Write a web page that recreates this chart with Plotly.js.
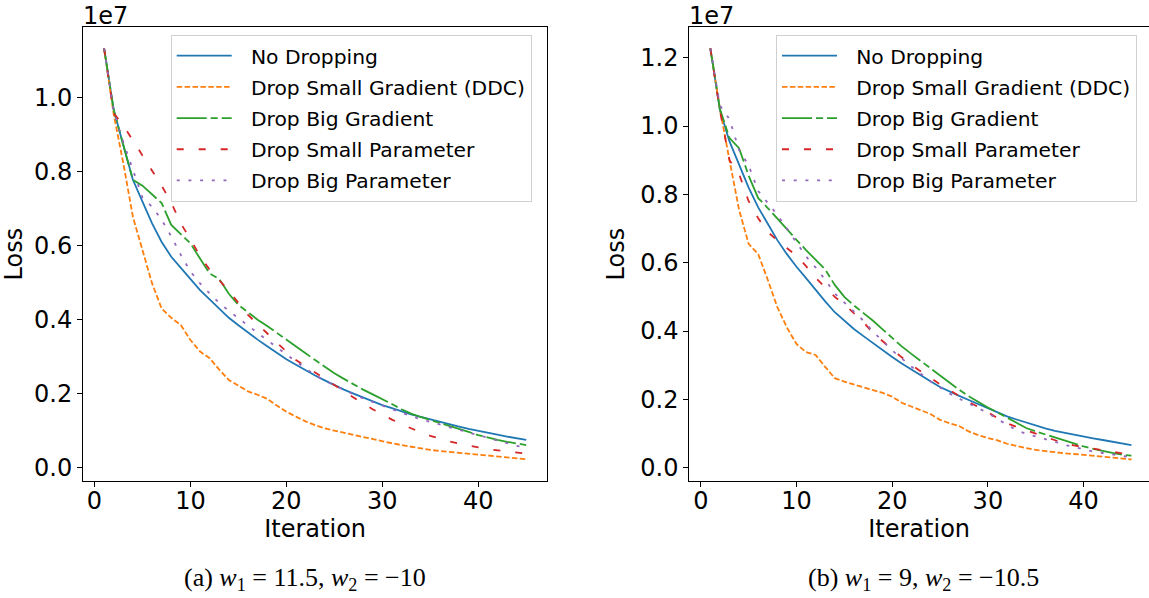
<!DOCTYPE html>
<html>
<head>
<meta charset="utf-8">
<script src="https://cdn.plot.ly/plotly-3.0.1.min.js"></script>
<style>html,body{margin:0;padding:0;background:#fff;}#chart{width:1149px;height:598px;}</style>
</head>
<body>
<div id="chart"></div>
<script>
// Iterations 1..45 ; losses in units of 1e7
const iterations = [1,2,3,4,5,6,7,8,9,10,11,12,13,14,15,16,17,18,19,20,21,22,23,24,25,26,27,28,29,30,31,32,33,34,35,36,37,38,39,40,41,42,43,44,45];

const seriesNames = ["No Dropping", "Drop Small Gradient (DDC)", "Drop Big Gradient", "Drop Small Parameter", "Drop Big Parameter"];

// (a) w1 = 11.5, w2 = -10
const a_noDrop = [1.133,0.967,0.872,0.778,0.719,0.660,0.610,0.570,0.540,0.510,0.480,0.455,0.430,0.405,0.385,0.365,0.346,0.328,0.310,0.293,0.278,0.263,0.249,0.236,0.223,0.211,0.200,0.189,0.179,0.169,0.161,0.152,0.144,0.137,0.130,0.123,0.117,0.111,0.105,0.099,0.094,0.089,0.084,0.080,0.075];
const a_dropSmallGrad = [1.133,0.955,0.823,0.678,0.588,0.498,0.430,0.405,0.385,0.345,0.314,0.296,0.265,0.237,0.222,0.206,0.197,0.186,0.168,0.151,0.138,0.125,0.115,0.106,0.100,0.094,0.088,0.082,0.076,0.071,0.066,0.061,0.056,0.052,0.048,0.045,0.042,0.040,0.037,0.035,0.033,0.031,0.028,0.026,0.023];
const a_dropBigGrad = [1.133,0.967,0.872,0.778,0.762,0.738,0.715,0.656,0.630,0.606,0.565,0.525,0.510,0.470,0.440,0.420,0.400,0.383,0.364,0.345,0.327,0.309,0.291,0.273,0.255,0.240,0.225,0.211,0.198,0.186,0.172,0.158,0.146,0.137,0.129,0.122,0.115,0.106,0.097,0.088,0.081,0.075,0.070,0.065,0.061];
const a_dropSmallParam = [1.133,0.958,0.925,0.885,0.845,0.803,0.762,0.716,0.660,0.617,0.572,0.535,0.507,0.478,0.445,0.413,0.388,0.362,0.338,0.314,0.291,0.274,0.257,0.241,0.224,0.207,0.190,0.173,0.158,0.143,0.130,0.118,0.106,0.095,0.086,0.078,0.071,0.065,0.059,0.055,0.050,0.047,0.044,0.041,0.038];
const a_dropBigParam = [1.133,0.962,0.880,0.805,0.730,0.705,0.670,0.625,0.575,0.530,0.498,0.471,0.445,0.424,0.403,0.384,0.364,0.344,0.325,0.306,0.287,0.268,0.250,0.235,0.222,0.210,0.198,0.187,0.177,0.167,0.157,0.147,0.139,0.131,0.124,0.116,0.109,0.101,0.095,0.089,0.081,0.074,0.066,0.059,0.055];

// (b) w1 = 9, w2 = -10.5
const b_noDrop = [1.227,1.047,0.955,0.885,0.820,0.762,0.712,0.666,0.625,0.588,0.555,0.520,0.487,0.455,0.430,0.406,0.385,0.364,0.344,0.324,0.305,0.287,0.270,0.253,0.236,0.222,0.210,0.198,0.186,0.174,0.162,0.150,0.141,0.132,0.123,0.115,0.108,0.102,0.096,0.091,0.086,0.081,0.076,0.071,0.066];
const b_dropSmallGrad = [1.227,1.050,0.900,0.755,0.655,0.625,0.550,0.470,0.410,0.362,0.338,0.330,0.295,0.262,0.252,0.243,0.235,0.227,0.219,0.208,0.190,0.180,0.168,0.157,0.140,0.130,0.122,0.106,0.095,0.087,0.080,0.070,0.063,0.057,0.052,0.048,0.045,0.042,0.040,0.037,0.034,0.032,0.029,0.027,0.024];
const b_dropBigGrad = [1.227,1.050,0.965,0.935,0.855,0.789,0.760,0.728,0.697,0.667,0.637,0.608,0.580,0.535,0.500,0.475,0.453,0.430,0.405,0.380,0.355,0.333,0.312,0.291,0.269,0.248,0.228,0.209,0.192,0.176,0.162,0.146,0.130,0.116,0.106,0.097,0.088,0.079,0.070,0.062,0.055,0.048,0.043,0.038,0.035];
const b_dropSmallParam = [1.227,1.045,0.900,0.860,0.780,0.730,0.690,0.665,0.643,0.620,0.590,0.556,0.528,0.500,0.478,0.452,0.426,0.394,0.370,0.347,0.323,0.301,0.282,0.262,0.244,0.227,0.209,0.192,0.178,0.163,0.145,0.130,0.119,0.109,0.099,0.089,0.080,0.071,0.065,0.060,0.056,0.052,0.047,0.042,0.039];
const b_dropBigParam = [1.227,1.060,1.020,0.930,0.885,0.810,0.775,0.740,0.700,0.657,0.618,0.586,0.550,0.510,0.484,0.456,0.430,0.398,0.370,0.343,0.320,0.296,0.275,0.253,0.235,0.217,0.202,0.188,0.174,0.160,0.142,0.126,0.110,0.099,0.092,0.085,0.076,0.067,0.060,0.052,0.047,0.043,0.038,0.033,0.030];

const xTicks = [0,10,20,30,40];
const yTicksA = [0.0,0.2,0.4,0.6,0.8,1.0];
const yTicksB = [0.0,0.2,0.4,0.6,0.8,1.0,1.2];
const yTickTextA = ["0.0","0.2","0.4","0.6","0.8","1.0"];
const yTickTextB = ["0.0","0.2","0.4","0.6","0.8","1.0","1.2"];
const captionA = "(a) <i>w</i><sub>1</sub>&nbsp;=&nbsp;11.5, <i>w</i><sub>2</sub>&nbsp;=&nbsp;−10";
const captionB = "(b) <i>w</i><sub>1</sub>&nbsp;=&nbsp;9, <i>w</i><sub>2</sub>&nbsp;=&nbsp;−10.5";

const colors = ["#1f77b4","#ff7f0e","#2ca02c","#d62728","#9467bd"];
const dashes = ["solid","5.5px,2.4px","30px,4px,7px,4px","7px,15px","3px,8.7px"];
const LW = 1.8;
const legendPad = "\u2002\u2009";

const seriesA = [a_noDrop,a_dropSmallGrad,a_dropBigGrad,a_dropSmallParam,a_dropBigParam];
const seriesB = [b_noDrop,b_dropSmallGrad,b_dropBigGrad,b_dropSmallParam,b_dropBigParam];

const traces = [];
seriesA.forEach((ys,i)=>traces.push({x:iterations,y:ys,type:"scatter",mode:"lines",name:legendPad+seriesNames[i],
  legendgroup:"a"+i,line:{color:colors[i],width:LW,dash:dashes[i]},xaxis:"x",yaxis:"y",legend:"legend"}));
seriesB.forEach((ys,i)=>traces.push({x:iterations,y:ys,type:"scatter",mode:"lines",name:legendPad+seriesNames[i],
  legendgroup:"b"+i,line:{color:colors[i],width:LW,dash:dashes[i]},xaxis:"x2",yaxis:"y2",legend:"legend2"}));

const W=1149,H=598;
const tickFont={family:"DejaVu Sans, sans-serif",size:24,color:"#000"};
const axBase={showline:true,linecolor:"#000",linewidth:1,ticks:"outside",ticklen:5,tickwidth:1,tickcolor:"#000",
  showgrid:false,zeroline:false,tickfont:tickFont,fixedrange:true};
const yDom=[1-481/H,1-27.3/H];

const legBase={bgcolor:"rgba(255,255,255,0.8)",bordercolor:"#d0d0d0",borderwidth:1,
  font:{family:"DejaVu Sans, sans-serif",size:20.3,color:"#000"},xanchor:"left",yanchor:"top",itemwidth:55,
  traceorder:"grouped",tracegroupgap:1.8,itemclick:false,itemdoubleclick:false};

const layout={
  width:W,height:H,margin:{l:0,r:0,t:0,b:0},paper_bgcolor:"#fff",plot_bgcolor:"#fff",showlegend:true,
  xaxis:Object.assign({},axBase,{domain:[83/W,547.3/W],range:[-1.2,47.2],tickvals:xTicks,anchor:"y",mirror:true,
    ticklabelstandoff:-7,title:{text:"Iteration",font:tickFont,standoff:1}}),
  yaxis:Object.assign({},axBase,{domain:yDom,range:[-0.036,1.190],tickvals:yTicksA,ticktext:yTickTextA,anchor:"x",mirror:true,
    title:{text:"Loss",font:tickFont,standoff:8}}),
  xaxis2:Object.assign({},axBase,{domain:[689.3/W,1],range:[-1.2,-1.2+(W-689.3)/9.57],tickvals:xTicks,anchor:"y2",mirror:true,
    ticklabelstandoff:-7,title:{text:"Iteration",font:tickFont,standoff:1}}),
  yaxis2:Object.assign({},axBase,{domain:yDom,range:[-0.039,1.289],tickvals:yTicksB,ticktext:yTickTextB,anchor:"x2",mirror:false,
    title:{text:"Loss",font:tickFont,standoff:8}}),
  legend:Object.assign({},legBase,{x:170.7/W,y:1-35/H}),
  legend2:Object.assign({},legBase,{x:776/W,y:1-35/H}),
  annotations:[
    {text:"1e7",xref:"paper",yref:"paper",x:81/W,y:1-27.3/H,xanchor:"left",yanchor:"bottom",yshift:-5,showarrow:false,font:tickFont},
    {text:"1e7",xref:"paper",yref:"paper",x:687.3/W,y:1-27.3/H,xanchor:"left",yanchor:"bottom",yshift:-5,showarrow:false,font:tickFont},
    {text:captionA,xref:"paper",yref:"paper",x:305/W,y:1-579/H,xanchor:"center",yanchor:"middle",showarrow:false,
      font:{family:"Liberation Serif, DejaVu Serif, serif",size:26,color:"#000"}},
    {text:captionB,xref:"paper",yref:"paper",x:923/W,y:1-579/H,xanchor:"center",yanchor:"middle",showarrow:false,
      font:{family:"Liberation Serif, DejaVu Serif, serif",size:26,color:"#000"}}
  ]
};
Plotly.newPlot("chart",traces,layout,{staticPlot:true,displayModeBar:false});
</script>
</body>
</html>
